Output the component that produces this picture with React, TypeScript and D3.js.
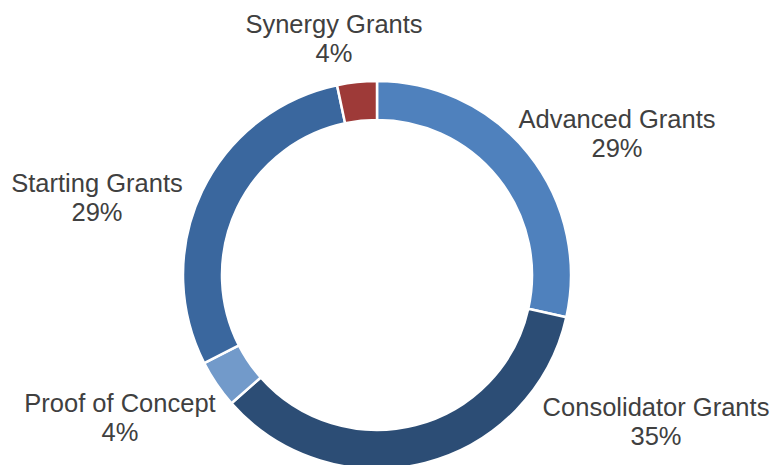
import React, { useEffect, useRef } from 'react';
import * as d3 from 'd3';

const categories = [
  'Advanced Grants',
  'Consolidator Grants',
  'Proof of Concept',
  'Starting Grants',
  'Synergy Grants',
];
const shares = [28.5, 35.0, 4.0, 29.2, 3.3];
const shareLabels = ['29%', '35%', '4%', '29%', '4%'];
const colors = ['#4F81BD', '#2C4D75', '#729ACA', '#3A679E', '#9E3A38'];

// where excel put the labels (center of first line baseline)
const labelPos = [
  [617, 128],
  [656, 416],
  [120, 412],
  [97, 192],
  [334, 33],
];

const width = 771;
const height = 465;

export default function App() {
  const ref = useRef(null);

  useEffect(() => {
    const node = ref.current;
    while (node.hasChildNodes()) node.removeChild(node.lastChild);

    const svg = d3
      .select(node)
      .append('svg')
      .attr('width', width)
      .attr('height', height)
      .style('position', 'absolute')
      .style('left', 0)
      .style('top', 0)
      .style('background', '#fff');

    const cx = 377;
    const cy = 275;
    const outer = 194;
    const inner = 155;

    const pie = d3
      .pie()
      .sort(null)
      .value((d) => d);
    const arc = d3.arc().innerRadius(inner).outerRadius(outer);

    const g = svg.append('g').attr('transform', `translate(${cx},${cy})`);
    g.selectAll('path')
      .data(pie(shares))
      .join('path')
      .attr('d', arc)
      .attr('fill', (d, i) => colors[i])
      .attr('stroke', '#fff')
      .attr('stroke-width', 2.5)
      .attr('stroke-linejoin', 'round');

    const labels = svg
      .append('g')
      .attr('font-family', 'Liberation Sans, Arial, sans-serif')
      .attr('font-size', 25.5)
      .attr('fill', '#404040')
      .attr('text-anchor', 'middle')
      .selectAll('text')
      .data(categories)
      .join('text')
      .attr('x', (d, i) => labelPos[i][0])
      .attr('y', (d, i) => labelPos[i][1]);

    labels.append('tspan').text((d) => d);
    labels
      .append('tspan')
      .attr('x', (d, i) => labelPos[i][0])
      .attr('dy', 29)
      .text((d, i) => shareLabels[i]);
  }, []);

  return <div ref={ref}></div>;
}
